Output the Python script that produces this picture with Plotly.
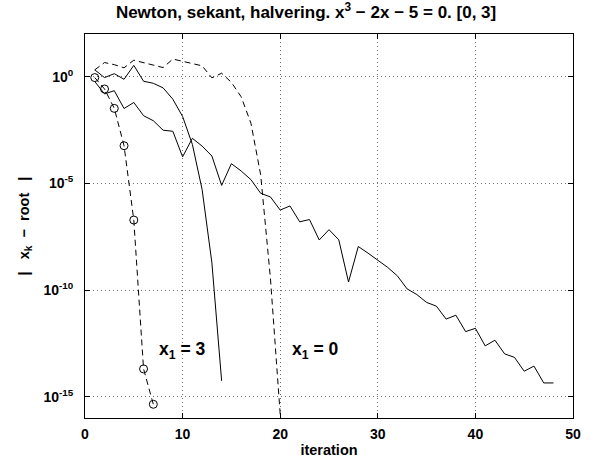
import plotly.graph_objects as go

# iteration errors |x_k - root|
newton3_err = [0.905, 0.265, 3.26e-2, 5.8e-4, 1.9e-7, 2.0e-14, 4.4e-16]
newton0_err = [2.09, 4.59, 3.66, 2.60, 5.92, 4.64, 3.70, 2.67, 6.69, 5.18,
               4.12, 3.22, 0.880, 1.45, 0.539, 0.114, 6.6e-3, 2.5e-5, 3.5e-10, 1.5e-16]
secant_err = [2.09, 0.905, 1.38, 0.752, 3.39, 0.611, 0.488, 0.299, 8.77e-2, 1.36e-2,
              6.7e-4, 5.1e-6, 1.9e-9, 5.5e-15]
bisect_err = [0.595, 0.155, 0.220, 3.21e-2, 6.17e-2, 1.48e-2, 8.61e-3, 3.10e-3, 2.75e-3, 1.75e-4,
              1.29e-3, 5.57e-4, 1.91e-4, 8.02e-6, 8.35e-5, 3.78e-5, 1.49e-5, 3.42e-6, 2.30e-6, 5.59e-7,
              8.72e-7, 1.57e-7, 2.01e-7, 2.21e-8, 6.73e-8, 2.26e-8, 2.36e-10, 1.09e-8, 5.35e-9, 2.56e-9,
              1.16e-9, 4.63e-10, 1.13e-10, 6.12e-11, 2.62e-11, 1.75e-11, 4.33e-12, 6.58e-12, 1.12e-12, 1.60e-12,
              2.40e-13, 4.42e-13, 1.01e-13, 6.97e-14, 1.56e-14, 2.71e-14, 4.4e-15, 4.4e-15]

x_ticks = [0, 10, 20, 30, 40, 50]
y_ticks = [1, 1e-5, 1e-10, 1e-15]
y_tick_labels = ["10<sup>0</sup>", "10<sup>-5</sup>", "10<sup>-10</sup>", "10<sup>-15</sup>"]

label_x3 = "<b>x<sub>1</sub> = 3</b>"
label_x0 = "<b>x<sub>1</sub> = 0</b>"

FONT = "Liberation Sans, Arial, Helvetica, sans-serif"

def its(vals):
    return list(range(1, len(vals) + 1))

fig = go.Figure()
fig.add_trace(go.Scatter(x=its(newton3_err), y=newton3_err, mode="lines+markers",
                         line=dict(color="black", width=1, dash="6px,4px"),
                         marker=dict(symbol="circle-open", size=8, color="black", line=dict(width=1))))
fig.add_trace(go.Scatter(x=its(newton0_err), y=newton0_err, mode="lines",
                         line=dict(color="black", width=1, dash="6px,4px")))
fig.add_trace(go.Scatter(x=its(secant_err), y=secant_err, mode="lines",
                         line=dict(color="black", width=1)))
fig.add_trace(go.Scatter(x=its(bisect_err), y=bisect_err, mode="lines",
                         line=dict(color="black", width=1)))

fig.add_annotation(x=7.4, y=-12.85, text=label_x3, showarrow=False, xanchor="left", yanchor="middle",
                   font=dict(family=FONT, size=17.5, color="black"))
fig.add_annotation(x=21.0, y=-12.85, text=label_x0, showarrow=False, xanchor="left", yanchor="middle",
                   font=dict(family=FONT, size=17.5, color="black"))

fig.update_layout(
    width=591, height=463,
    margin=dict(l=85, r=18, t=34, b=45, autoexpand=False),
    paper_bgcolor="white", plot_bgcolor="white",
    showlegend=False,
    font=dict(family=FONT, size=14, color="black"),
    title=dict(text="<b>Newton, sekant, halvering. x<sup>3</sup> − 2x − 5 = 0. [0, 3]</b>",
               x=0.453, xref="paper", xanchor="center", y=1 - 12 / 463, yanchor="middle",
               font=dict(family=FONT, size=17, color="black")),
    xaxis=dict(range=[0, 50], tickvals=x_ticks, ticktext=[f"<b>{v}</b>" for v in x_ticks],
               automargin=False,
               showline=True, linecolor="black", linewidth=1, mirror="ticks",
               ticks="inside", ticklen=5, tickcolor="black", ticklabelstandoff=3,
               tickfont=dict(size=14),
               showgrid=True, gridcolor="#707070", griddash="1px,3px", gridwidth=1,
               zeroline=False,
               title=dict(text="<b>iteration</b>", standoff=4, font=dict(size=14.5))),
    yaxis=dict(type="log", range=[-16, 2], tickvals=y_ticks,
               ticktext=[f"<b>{t}</b>" for t in y_tick_labels],
               automargin=False,
               showline=True, linecolor="black", linewidth=1, mirror="ticks",
               ticks="inside", ticklen=5, tickcolor="black", ticklabelstandoff=8,
               tickfont=dict(size=14),
               showgrid=True, gridcolor="#707070", griddash="1px,3px", gridwidth=1,
               zeroline=False,
               title=dict(text="<b>|&nbsp;&nbsp; x<sub>k</sub> &nbsp;−&nbsp; root &nbsp;&nbsp;|</b>",
                          standoff=10, font=dict(size=14.5))),
)

fig.write_html("out.html", config={"displayModeBar": False},
               post_script="document.body.style.margin='0px';")
